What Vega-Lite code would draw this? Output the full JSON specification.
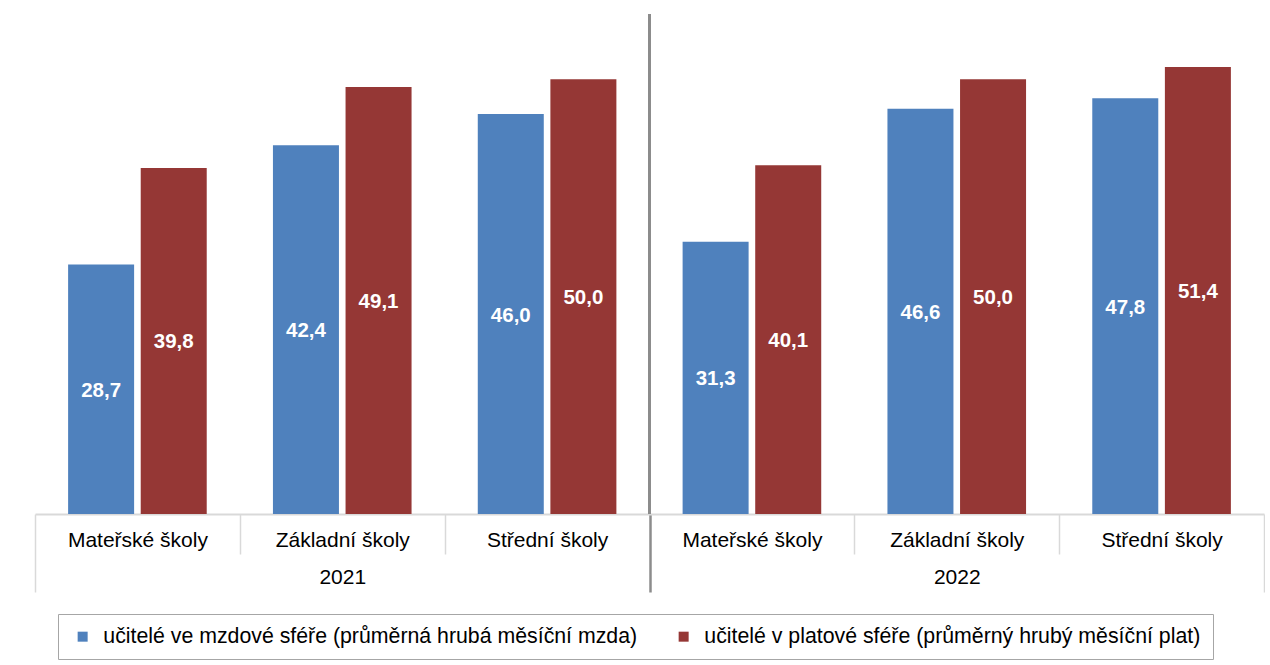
{
  "$schema": "https://vega.github.io/schema/vega-lite/v6.json",
  "width": 1229,
  "height": 500,
  "padding": {"left": 34, "top": 12, "right": 0, "bottom": 0},
  "background": "white",
  "data": {
    "values": [
      {"key": "2021|Mateřské školy", "year": "2021", "category": "Mateřské školy", "series": "učitelé ve mzdové sféře (průměrná hrubá měsíční mzda)", "amount": 28.7},
      {"key": "2021|Mateřské školy", "year": "2021", "category": "Mateřské školy", "series": "učitelé v platové sféře (průměrný hrubý měsíční plat)", "amount": 39.8},
      {"key": "2021|Základní školy", "year": "2021", "category": "Základní školy", "series": "učitelé ve mzdové sféře (průměrná hrubá měsíční mzda)", "amount": 42.4},
      {"key": "2021|Základní školy", "year": "2021", "category": "Základní školy", "series": "učitelé v platové sféře (průměrný hrubý měsíční plat)", "amount": 49.1},
      {"key": "2021|Střední školy", "year": "2021", "category": "Střední školy", "series": "učitelé ve mzdové sféře (průměrná hrubá měsíční mzda)", "amount": 46.0},
      {"key": "2021|Střední školy", "year": "2021", "category": "Střední školy", "series": "učitelé v platové sféře (průměrný hrubý měsíční plat)", "amount": 50.0},
      {"key": "2022|Mateřské školy", "year": "2022", "category": "Mateřské školy", "series": "učitelé ve mzdové sféře (průměrná hrubá měsíční mzda)", "amount": 31.3},
      {"key": "2022|Mateřské školy", "year": "2022", "category": "Mateřské školy", "series": "učitelé v platové sféře (průměrný hrubý měsíční plat)", "amount": 40.1},
      {"key": "2022|Základní školy", "year": "2022", "category": "Základní školy", "series": "učitelé ve mzdové sféře (průměrná hrubá měsíční mzda)", "amount": 46.6},
      {"key": "2022|Základní školy", "year": "2022", "category": "Základní školy", "series": "učitelé v platové sféře (průměrný hrubý měsíční plat)", "amount": 50.0},
      {"key": "2022|Střední školy", "year": "2022", "category": "Střední školy", "series": "učitelé ve mzdové sféře (průměrná hrubá měsíční mzda)", "amount": 47.8},
      {"key": "2022|Střední školy", "year": "2022", "category": "Střední školy", "series": "učitelé v platové sféře (průměrný hrubý měsíční plat)", "amount": 51.4}
    ]
  },
  "encoding": {
    "x": {
      "field": "key", "type": "nominal", "sort": null,
      "scale": {"paddingInner": 0, "paddingOuter": 0},
      "axis": {
        "orient": "bottom", "title": null,
        "labelExpr": "isString(datum.value) ? [split(datum.value, '|')[1], indexof(datum.value, 'Základní') >= 0 ? slice(datum.value, 0, 4) : ''] : ''",
        "labelAngle": 0, "labelLineHeight": 37, "labelBaseline": "top",
        "tickBand": "extent", "tickSize": 78,
        "tickColor": {"condition": {"test": "datum.value === '2021|Střední školy'", "value": "#8c8c8c"}, "value": "#d9d9d9"},
        "tickWidth": {"condition": {"test": "datum.value === '2021|Střední školy'", "value": 2.5}, "value": 1.5},
        "tickDash": {"condition": {"test": "datum.value === '2021|Střední školy' || datum.value === '2022|Střední školy' || datum.extra", "value": [200, 0]}, "value": [40, 200]},
        "domainColor": "#d9d9d9", "domainWidth": 2,
        "labelPadding": -62.5, "labelFontSize": 21
      }
    },
    "xOffset": {
      "field": "series", "type": "nominal",
      "sort": ["učitelé ve mzdové sféře (průměrná hrubá měsíční mzda)", "učitelé v platové sféře (průměrný hrubý měsíční plat)"],
      "scale": {"paddingInner": 0.091, "paddingOuter": 0.456}
    }
  },
  "layer": [
    {
      "mark": {"type": "bar"},
      "encoding": {
        "y": {"field": "amount", "type": "quantitative", "scale": {"domain": [0, 57.5], "nice": false}, "axis": null},
        "color": {
          "field": "series", "type": "nominal",
          "scale": {
            "domain": ["učitelé ve mzdové sféře (průměrná hrubá měsíční mzda)", "učitelé v platové sféře (průměrný hrubý měsíční plat)"],
            "range": ["#4F81BD", "#953735"]
          },
          "legend": {
            "orient": "none", "legendX": 23, "legendY": 600,
            "direction": "horizontal",
            "title": "\u2003", "titleOrient": "left", "titleFontSize": 21, "titlePadding": 2,
            "symbolType": "square", "symbolSize": 100, "symbolStrokeWidth": 0,
            "labelFontSize": 21.3, "labelOffset": 10, "columnPadding": 35, "labelLimit": 1000,
            "padding": 12, "strokeColor": "#a6a6a6"
          }
        }
      }
    },
    {
      "mark": {"type": "text", "color": "white", "fontWeight": "bold", "fontSize": 20.5, "baseline": "middle", "dy": 1.5,
               "text": {"expr": "replace(format(datum.amount, '.1f'), '.', ',')"}},
      "encoding": {
        "y": {"field": "amount", "type": "quantitative", "scale": {"domain": [0, 115], "nice": false}, "axis": null}
      }
    },
    {
      "mark": {"type": "rule", "color": "#8c8c8c", "strokeWidth": 2.5},
      "encoding": {
        "x": {"datum": "2022|Mateřské školy", "type": "nominal", "bandPosition": 0},
        "xOffset": null
      }
    }
  ],
  "resolve": {"scale": {"y": "independent"}},
  "config": {
    "view": {"stroke": null},
    "font": "Liberation Sans",
    "axis": {"labelFont": "Liberation Sans", "labelColor": "#000000"},
    "legend": {"labelFont": "Liberation Sans", "labelColor": "#000000", "titleFont": "Liberation Sans"},
    "text": {"font": "Liberation Sans"}
  }
}
